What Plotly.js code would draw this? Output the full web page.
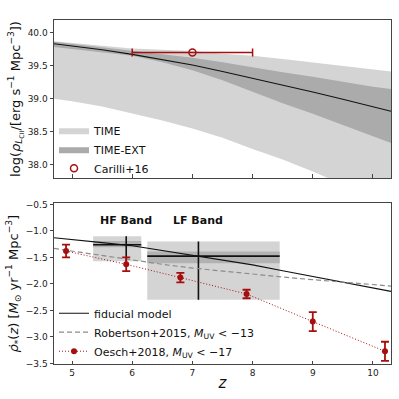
<!DOCTYPE html>
<html>
<head>
<meta charset="utf-8">
<script src="https://cdn.plot.ly/plotly-3.0.1.min.js"></script>
<style>
  html, body { margin: 0; padding: 0; background: #fff; }
  #chart { width: 399px; height: 399px; }
</style>
</head>
<body>
<div id="chart"></div>
<script>
// redshift grid for the model curves
var zGrid = [4.7, 5, 5.5, 6, 6.5, 7, 7.5, 8, 8.5, 9, 9.5, 10, 10.3];

// top panel: log CII luminosity density
var ciiFiducial = [39.83, 39.80, 39.74, 39.67, 39.59, 39.51, 39.41, 39.31, 39.21, 39.10, 38.99, 38.88, 38.81];
var timeUpper   = [39.87, 39.84, 39.80, 39.76, 39.74, 39.72, 39.68, 39.65, 39.60, 39.55, 39.50, 39.44, 39.41];
var timeLower   = [39.00, 38.96, 38.88, 38.78, 38.67, 38.55, 38.41, 38.24, 38.08, 37.90, 37.70, 37.45, 37.30];
var extUpper    = [39.86, 39.83, 39.78, 39.73, 39.68, 39.62, 39.55, 39.47, 39.40, 39.33, 39.25, 39.18, 39.145];
var extLower    = [39.78, 39.75, 39.71, 39.65, 39.55, 39.43, 39.28, 39.10, 38.93, 38.77, 38.60, 38.42, 38.33];

// Carilli+16 point
var carilliZ = [7.0];
var carilliRho = [39.70];
var carilliZerr = [1.0];

// bottom panel: star formation rate density
var sfrdFiducial  = [-1.13, -1.16, -1.22, -1.28, -1.37, -1.46, -1.55, -1.64, -1.75, -1.86, -1.96, -2.07, -2.14];
var sfrdRobertson = [-1.33, -1.38, -1.47, -1.55, -1.63, -1.70, -1.76, -1.82, -1.87, -1.92, -1.97, -2.01, -2.04];

var oeschZ   = [4.9, 5.9, 6.8, 7.9, 9.0, 10.2];
var oeschRho = [-1.38, -1.63, -1.88, -2.19, -2.71, -3.27];
var oeschErr = [0.12, 0.13, 0.09, 0.08, 0.18, 0.18];

// TIME bands (HF / LF)
var bandNames   = ["HF Band", "LF Band"];
var bandZ       = [5.9, 7.1];
var bandZlo     = [5.35, 6.25];
var bandZhi     = [6.15, 8.45];
var bandRho     = [-1.26, -1.475];
var bandRhoLo   = [-1.57, -2.30];
var bandRhoHi   = [-1.10, -1.20];
var bandInnerLo = [-1.31, -1.61];
var bandInnerHi = [-1.19, -1.39];
var bandLabelRho = -0.80;

var red = "#a50f0f";
var font = "DejaVu Sans, sans-serif";

// cross lines of the bands
var crossX = [], crossY = [];
bandZ.forEach(function(z, i) {
  crossX.push(bandZlo[i], bandZhi[i], null, z, z, null);
  crossY.push(bandRho[i], bandRho[i], null, bandRhoHi[i], bandRhoLo[i], null);
});

var traces = [
  {x: zGrid, y: timeLower, xaxis: "x", yaxis: "y", mode: "lines", line: {width: 0},
   showlegend: false, hoverinfo: "skip"},
  {x: zGrid, y: timeUpper, xaxis: "x", yaxis: "y", mode: "lines", line: {width: 0},
   fill: "tonexty", fillcolor: "#d4d4d4", name: "TIME", legend: "legend"},
  {x: zGrid, y: extLower, xaxis: "x", yaxis: "y", mode: "lines", line: {width: 0},
   showlegend: false, hoverinfo: "skip"},
  {x: zGrid, y: extUpper, xaxis: "x", yaxis: "y", mode: "lines", line: {width: 0},
   fill: "tonexty", fillcolor: "#ababab", name: "TIME-EXT", legend: "legend"},
  {x: zGrid, y: ciiFiducial, xaxis: "x", yaxis: "y", mode: "lines",
   line: {color: "#111", width: 1.1}, showlegend: false},
  {x: carilliZ, y: carilliRho, xaxis: "x", yaxis: "y", mode: "markers",
   marker: {symbol: "circle-open", size: 7, color: red, line: {width: 1.5, color: red}},
   error_x: {type: "data", array: carilliZerr, color: red, thickness: 1.5, width: 4},
   name: "Carilli+16", legend: "legend"},

  {x: crossX, y: crossY, xaxis: "x2", yaxis: "y2", mode: "lines",
   line: {color: "#111", width: 1.6}, showlegend: false, hoverinfo: "skip"},
  {x: zGrid, y: sfrdFiducial, xaxis: "x2", yaxis: "y2", mode: "lines",
   line: {color: "#111", width: 1.1}, name: "fiducial model", legend: "legend2"},
  {x: zGrid, y: sfrdRobertson, xaxis: "x2", yaxis: "y2", mode: "lines",
   line: {color: "#8c8c8c", width: 1.2, dash: "5px,3px"},
   name: "Robertson+2015, <i>M</i><sub>UV</sub> < −13", legend: "legend2"},
  {x: oeschZ, y: oeschRho, xaxis: "x2", yaxis: "y2", mode: "lines+markers",
   line: {color: red, width: 1, dash: "1px,2px"},
   marker: {size: 6, color: red},
   error_y: {type: "data", array: oeschErr, color: red, thickness: 1.8, width: 4},
   name: "Oesch+2018, <i>M</i><sub>UV</sub> < −17", legend: "legend2"}
];

var shapes = [];
bandZ.forEach(function(z, i) {
  shapes.push({type: "rect", xref: "x2", yref: "y2", layer: "below",
    x0: bandZlo[i], x1: bandZhi[i], y0: bandRhoLo[i], y1: bandRhoHi[i],
    fillcolor: "#d4d4d4", line: {width: 0}});
  shapes.push({type: "rect", xref: "x2", yref: "y2", layer: "below",
    x0: bandZlo[i], x1: bandZhi[i], y0: bandInnerLo[i], y1: bandInnerHi[i],
    fillcolor: "#b2b2b2", line: {width: 0}});
});

var annotations = bandNames.map(function(name, i) {
  return {xref: "x2", yref: "y2", x: bandZ[i], y: bandLabelRho, text: "<b>" + name + "</b>",
    showarrow: false, font: {family: font, size: 11, color: "#111"}};
});

var axisCommon = {
  showgrid: false, zeroline: false, showline: true, mirror: true,
  linecolor: "#444", linewidth: 1, ticks: "outside", ticklen: 3.5,
  tickcolor: "#444", tickfont: {family: font, size: 9, color: "#222"}
};

var layout = {
  width: 399, height: 399,
  margin: {l: 54, r: 8, t: 20, b: 35},
  paper_bgcolor: "#fff", plot_bgcolor: "#fff",
  font: {family: font, color: "#111"},
  xaxis: Object.assign({}, axisCommon, {domain: [0, 1], anchor: "y", range: [4.7, 10.3],
    tickvals: [5, 6, 7, 8, 9, 10], showticklabels: false, ticks: "inside", matches: "x2"}),
  yaxis: Object.assign({}, axisCommon, {domain: [0.5407, 1], anchor: "x", range: [37.8, 40.19],
    tickvals: [38, 38.5, 39, 39.5, 40], tickformat: ".1f",
    title: {text: "log(<i>ρ</i><sub><i>L</i><sub>CII</sub></sub>/[erg s<sup>−1</sup> Mpc<sup>−3</sup>])",
      font: {family: font, size: 13}, standoff: 4}}),
  xaxis2: Object.assign({}, axisCommon, {domain: [0, 1], anchor: "y2", range: [4.7, 10.3],
    tickvals: [5, 6, 7, 8, 9, 10], ticks: "inside",
    title: {text: "<i>z</i>", font: {family: font, size: 15}, standoff: 0}}),
  yaxis2: Object.assign({}, axisCommon, {domain: [0, 0.467], anchor: "x2", range: [-3.51, -0.48],
    tickvals: [-3.5, -3, -2.5, -2, -1.5, -1, -0.5], tickformat: ".1f",
    title: {text: "<i>ρ̇</i><sub>*</sub>(<i>z</i>) [<i>M</i><sub>⊙</sub> yr<sup>−1</sup> Mpc<sup>−3</sup>]",
      font: {family: font, size: 13}, standoff: 4}}),
  legend: {x: 0.0, y: 0.527, xanchor: "left", yanchor: "bottom", bgcolor: "rgba(0,0,0,0)",
    traceorder: "normal", font: {family: font, size: 11, color: "#111"}, itemwidth: 30},
  legend2: {x: 0.0, y: -0.005, xanchor: "left", yanchor: "bottom", bgcolor: "rgba(0,0,0,0)",
    traceorder: "normal", font: {family: font, size: 11, color: "#111"}, itemwidth: 30},
  shapes: shapes,
  annotations: annotations,
  showlegend: true
};

Plotly.newPlot("chart", traces, layout, {staticPlot: true, displayModeBar: false});
</script>
</body>
</html>
